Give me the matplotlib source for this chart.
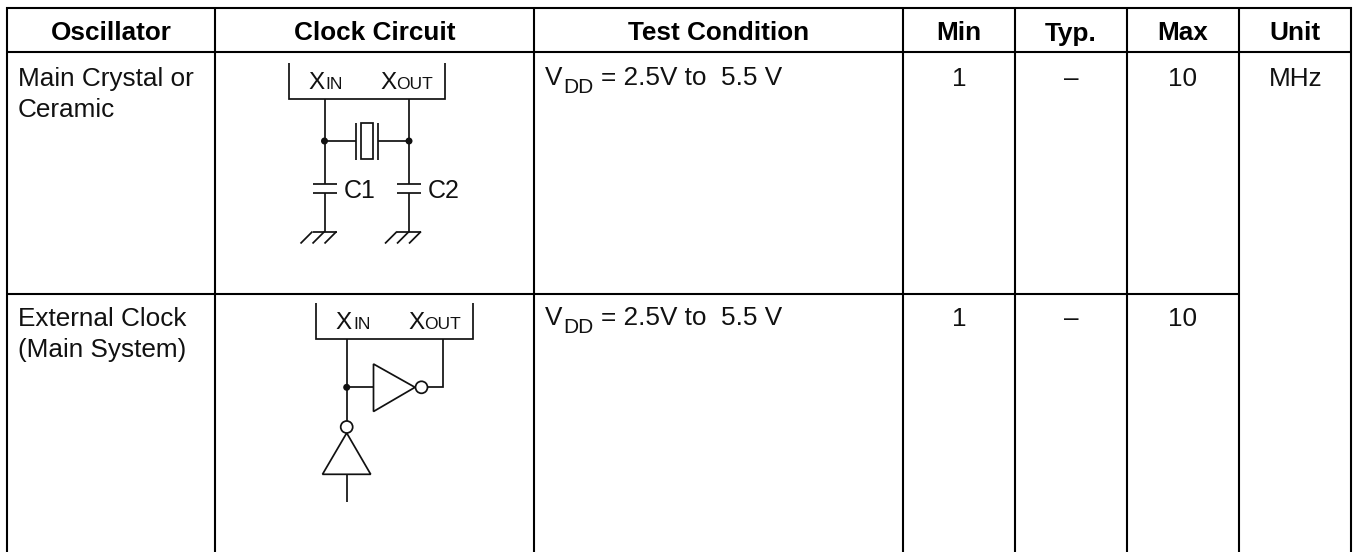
import matplotlib
matplotlib.use('Agg')
import matplotlib.pyplot as plt
from matplotlib.patches import Circle, Rectangle, Polygon

plt.rcParams['font.family'] = ['Liberation Sans', 'DejaVu Sans']

W, H = 1356, 552

headers = ['Oscillator', 'Clock Circuit', 'Test Condition', 'Min', 'Typ.', 'Max', 'Unit']
col_x = [7, 215, 534, 903, 1015, 1127, 1239, 1351]
row_y = [8, 52, 293.5, 552]

osc_names = [['Main Crystal or', 'Ceramic'], ['External Clock', '(Main System)']]
conditions = ['= 2.5V to  5.5 V', '= 2.5V to  5.5 V']
min_vals = ['1', '1']
typ_vals = ['\u2013', '\u2013']
max_vals = ['10', '10']
unit = 'MHz'
c_labels = ['C1', 'C2']

FS = 18.8
INK = '#111111'
WIRE = 1.25


def line(ax, xs, ys, lw=WIRE, color=INK):
    ax.plot(xs, ys, color=color, lw=lw, solid_capstyle='butt', solid_joinstyle='miter')


def label(ax, x, y, s, fs=FS, ha='left', **kw):
    ax.text(x, y, s, fontsize=fs, ha=ha, va='baseline', color=INK, **kw)


def pin_box(ax, x0, base, pin_names):
    # open top box with the two pins, big X then small capitals
    line(ax, [x0, x0, x0 + 156.5, x0 + 156.5], [base - 25, base + 11, base + 11, base - 25])
    label(ax, x0 + 19.5, base + 1, 'X', fs=17.5)
    label(ax, x0 + 37, base + 1, pin_names[0], fs=12.5)
    label(ax, x0 + 92, base + 1, 'X', fs=17.5)
    label(ax, x0 + 108, base + 1, pin_names[1], fs=12.5)


def ground(ax, x, y):
    line(ax, [x - 12, x + 12], [y, y])
    for dx in (-12, 0, 12):
        line(ax, [x + dx, x + dx - 12], [y, y + 12])


def cap(ax, x, y):
    line(ax, [x - 12, x + 12], [y, y])
    line(ax, [x - 12, x + 12], [y + 9.5, y + 9.5])


def dot(ax, x, y):
    ax.add_patch(Circle((x, y), 3.5, fc=INK, ec='none', zorder=5))


def bubble(ax, x, y):
    ax.add_patch(Circle((x, y), 6, fc='white', ec=INK, lw=WIRE, zorder=5))


def main():
    fig = plt.figure(figsize=(W / 100, H / 100), dpi=100)
    ax = fig.add_axes([0, 0, 1, 1])
    ax.set_xlim(0, W)
    ax.set_ylim(H, 0)
    ax.axis('off')

    # table grid, bottom rule is cut off in the source
    for x in col_x:
        line(ax, [x, x], [row_y[0] - 1, row_y[-1]], lw=1.5, color='black')
    for y in row_y[:2]:
        line(ax, [col_x[0] - 1, col_x[-1] + 1], [y, y], lw=1.5, color='black')
    line(ax, [col_x[0], col_x[-2]], [row_y[2], row_y[2]], lw=1.5, color='black')

    for i, h in enumerate(headers):
        ax.text((col_x[i] + col_x[i + 1]) / 2, 40.5, h, fontsize=FS, fontweight='bold', ha='center', va='baseline', color='black')

    for r in range(2):
        base = 86 if r == 0 else 326
        label(ax, 18, base, osc_names[r][0])
        label(ax, 18, base + 31, osc_names[r][1])
        label(ax, 545, base - 1, 'V')
        label(ax, 563, base + 7, 'DD', fs=15)
        label(ax, 601, base - 1, conditions[r])
        label(ax, 959, base, min_vals[r], ha='center')
        label(ax, 1071, base, typ_vals[r], ha='center')
        label(ax, 1183, base, max_vals[r], ha='center')
    label(ax, 1296, 86, unit, ha='center')

    # crystal circuit
    pin_box(ax, 288.5, 88, ['IN', 'OUT'])
    for xc, lab in zip((324.5, 409), c_labels):
        line(ax, [xc, xc], [99, 183.5])
        cap(ax, xc, 183.5)
        line(ax, [xc, xc], [193, 231.5])
        ground(ax, xc, 231.5)
        dot(ax, xc, 141)
        label(ax, xc + 19, 198, lab, fs=18)
    line(ax, [324.5, 356], [141, 141])
    line(ax, [378, 409], [141, 141])
    line(ax, [356, 356], [122.5, 159.5])
    line(ax, [378, 378], [122.5, 159.5])
    ax.add_patch(Rectangle((361, 123), 11.5, 36, fc='white', ec=INK, lw=WIRE))

    # external clock circuit
    pin_box(ax, 316, 328, ['IN', 'OUT'])
    line(ax, [346.7, 346.7], [339, 421])
    dot(ax, 346.7, 387.3)
    line(ax, [346.7, 373.5], [387.3, 387.3])
    ax.add_patch(Polygon([(373.5, 364), (373.5, 411.5), (415, 387.3)], closed=True, fc='white', ec=INK, lw=WIRE))
    bubble(ax, 421.5, 387.3)
    line(ax, [427.5, 442.7, 442.7], [387.3, 387.3, 339])
    bubble(ax, 346.7, 427)
    ax.add_patch(Polygon([(346.7, 433), (322.5, 474.3), (370.7, 474.3)], closed=True, fc='white', ec=INK, lw=WIRE))
    line(ax, [346.7, 346.7], [474.3, 502])

    fig.savefig('out.png', dpi=100)


if __name__ == '__main__':
    main()
